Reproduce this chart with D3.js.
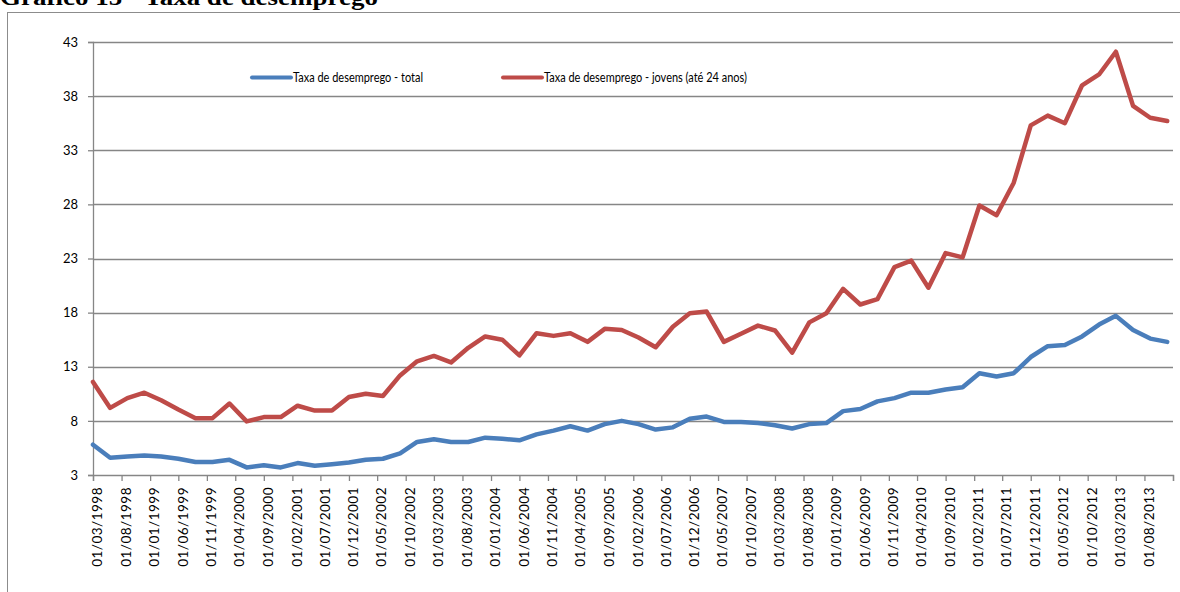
<!DOCTYPE html>
<html>
<head>
<meta charset="utf-8">
<script src="https://cdn.jsdelivr.net/npm/d3@7"></script>
<style>
  body { margin: 0; background: #fff; }
  svg { display: block; }
</style>
</head>
<body>
<svg id="chart"></svg>
<script>
"use strict";

// data (quarterly, Portugal)
const quarters = [
  "01/03/1998", "01/06/1998", "01/09/1998", "01/12/1998",
  "01/03/1999", "01/06/1999", "01/09/1999", "01/12/1999",
  "01/03/2000", "01/06/2000", "01/09/2000", "01/12/2000",
  "01/03/2001", "01/06/2001", "01/09/2001", "01/12/2001",
  "01/03/2002", "01/06/2002", "01/09/2002", "01/12/2002",
  "01/03/2003", "01/06/2003", "01/09/2003", "01/12/2003",
  "01/03/2004", "01/06/2004", "01/09/2004", "01/12/2004",
  "01/03/2005", "01/06/2005", "01/09/2005", "01/12/2005",
  "01/03/2006", "01/06/2006", "01/09/2006", "01/12/2006",
  "01/03/2007", "01/06/2007", "01/09/2007", "01/12/2007",
  "01/03/2008", "01/06/2008", "01/09/2008", "01/12/2008",
  "01/03/2009", "01/06/2009", "01/09/2009", "01/12/2009",
  "01/03/2010", "01/06/2010", "01/09/2010", "01/12/2010",
  "01/03/2011", "01/06/2011", "01/09/2011", "01/12/2011",
  "01/03/2012", "01/06/2012", "01/09/2012", "01/12/2012",
  "01/03/2013", "01/06/2013", "01/09/2013", "01/12/2013"
];

const total = [
  5.8, 4.6, 4.7, 4.8, 4.7, 4.5, 4.2, 4.2,
  4.4, 3.7, 3.9, 3.7, 4.1, 3.85, 4.0, 4.15,
  4.4, 4.5, 5.0, 6.05, 6.3, 6.05, 6.05, 6.45,
  6.35, 6.2, 6.75, 7.1, 7.5, 7.1, 7.7, 8.0,
  7.7, 7.2, 7.4, 8.2, 8.4, 7.9, 7.9, 7.8,
  7.6, 7.3, 7.7, 7.8, 8.9, 9.1, 9.8, 10.1,
  10.6, 10.6, 10.9, 11.1, 12.4, 12.1, 12.4, 13.9,
  14.9, 15.0, 15.8, 16.9, 17.7, 16.4, 15.6, 15.3
];

const jovens = [
  11.6, 9.2, 10.1, 10.6, 9.9, 9.05, 8.25, 8.25,
  9.6, 7.95, 8.35, 8.35, 9.4, 8.95, 8.95, 10.2,
  10.5, 10.3, 12.2, 13.5, 14.0, 13.4, 14.75, 15.8,
  15.5, 14.05, 16.1, 15.85, 16.1, 15.3, 16.5, 16.4,
  15.7, 14.8, 16.7, 17.95, 18.1, 15.3, 16.05, 16.8,
  16.35, 14.3, 17.1, 17.95, 20.2, 18.75, 19.25, 22.2,
  22.8, 20.3, 23.5, 23.1, 27.9, 27.0, 30.0, 35.3,
  36.2, 35.5, 39.0, 40.0, 42.1, 37.1, 36.0, 35.7
];

const tickLabels = [
  "01/03/1998", "01/08/1998", "01/01/1999", "01/06/1999", "01/11/1999",
  "01/04/2000", "01/09/2000", "01/02/2001", "01/07/2001", "01/12/2001",
  "01/05/2002", "01/10/2002", "01/03/2003", "01/08/2003", "01/01/2004",
  "01/06/2004", "01/11/2004", "01/04/2005", "01/09/2005", "01/02/2006",
  "01/07/2006", "01/12/2006", "01/05/2007", "01/10/2007", "01/03/2008",
  "01/08/2008", "01/01/2009", "01/06/2009", "01/11/2009", "01/04/2010",
  "01/09/2010", "01/02/2011", "01/07/2011", "01/12/2011", "01/05/2012",
  "01/10/2012", "01/03/2013", "01/08/2013"
];
const axisEnd = "01/01/2014";

const yTicks = [3, 8, 13, 18, 23, 28, 33, 38, 43];

const seriesNames = [
  "Taxa de desemprego - total",
  "Taxa de desemprego - jovens (até 24 anos)"
];
const seriesColors = ["#4a7ebb", "#be4b48"];

// setup
const width = 1180;
const height = 592;
const plotLeft = 93;
const plotRight = 1173;
const plotTop = 42;
const plotBottom = 475;
const gridColor = "#868686";
const font = "Lato, 'Open Sans', sans-serif";

const parse = d3.timeParse("%d/%m/%Y");

const svg = d3.select("#chart")
  .attr("width", width)
  .attr("height", height);

// title (cut off at top, like the source)
svg.append("text")
  .attr("x", 0)
  .attr("y", 5)
  .attr("font-family", "'Liberation Serif', 'DejaVu Serif', serif")
  .attr("font-weight", "bold")
  .attr("font-size", 24)
  .attr("textLength", 378)
  .attr("lengthAdjust", "spacingAndGlyphs")
  .text("Gráfico 15 - Taxa de desemprego");

// chart frame
svg.append("rect")
  .attr("x", 7.5)
  .attr("y", 12.5)
  .attr("width", 1200)
  .attr("height", 700)
  .attr("fill", "none")
  .attr("stroke", "#8c8c8c")
  .attr("stroke-width", 1);

const x = d3.scaleTime()
  .domain([parse(quarters[0]), parse(axisEnd)])
  .range([plotLeft, plotRight]);

const y = d3.scaleLinear()
  .domain([3, 43])
  .range([plotBottom, plotTop]);

// gridlines
svg.append("g")
  .selectAll("line")
  .data(yTicks.slice(1))
  .join("line")
  .attr("x1", plotLeft)
  .attr("x2", plotRight)
  .attr("y1", (d) => Math.round(y(d)) + 0.5)
  .attr("y2", (d) => Math.round(y(d)) + 0.5)
  .attr("stroke", gridColor)
  .attr("stroke-width", 1.3);

// Y axis
const yAxis = svg.append("g")
  .attr("transform", `translate(${plotLeft},0)`)
  .call(d3.axisLeft(y).tickValues(yTicks).tickSize(5).tickPadding(10).tickFormat(d3.format("d")));
yAxis.select(".domain").attr("stroke", gridColor).attr("stroke-width", 1.3);
yAxis.selectAll(".tick line").attr("stroke", gridColor).attr("stroke-width", 1.3);
yAxis.selectAll("text")
  .attr("font-family", font)
  .attr("font-size", 13)
  .attr("fill", "#000");

// X axis
const xTickDates = tickLabels.map(parse).concat([parse(axisEnd)]);
const xAxis = svg.append("g")
  .attr("transform", `translate(0,${plotBottom})`)
  .call(d3.axisBottom(x).tickValues(xTickDates).tickSize(6).tickFormat(() => ""));
xAxis.select(".domain").attr("stroke", gridColor).attr("stroke-width", 1.3);
xAxis.selectAll(".tick line").attr("stroke", gridColor).attr("stroke-width", 1.3);

svg.append("g")
  .selectAll("text")
  .data(tickLabels)
  .join("text")
  .attr("transform", (d) => `translate(${x(parse(d)) + 4.5},487) rotate(-90)`)
  .attr("text-anchor", "end")
  .attr("dy", "0.35em")
  .attr("font-family", font)
  .attr("font-size", 13.5)
  .attr("letter-spacing", 0.5)
  .attr("fill", "#000")
  .text((d) => d);

// lines
const line = d3.line()
  .x((d, i) => x(parse(quarters[i])))
  .y((d) => y(d));

[total, jovens].forEach((s, k) => {
  svg.append("path")
    .datum(s)
    .attr("d", line)
    .attr("fill", "none")
    .attr("stroke", seriesColors[k])
    .attr("stroke-width", 4.5)
    .attr("stroke-linejoin", "round")
    .attr("stroke-linecap", "round");
});

// legend
const legendItems = [
  { x: 252, textW: 130 },
  { x: 503, textW: 203 }
];
legendItems.forEach((p, k) => {
  const g = svg.append("g").attr("transform", `translate(${p.x},77.5)`);
  g.append("line")
    .attr("x1", 0)
    .attr("x2", 39)
    .attr("stroke", seriesColors[k])
    .attr("stroke-width", 4)
    .attr("stroke-linecap", "round");
  g.append("text")
    .attr("x", 41)
    .attr("dy", "0.35em")
    .attr("font-family", font)
    .attr("font-size", 13.5)
    .attr("textLength", p.textW)
    .attr("lengthAdjust", "spacingAndGlyphs")
    .attr("fill", "#000")
    .text(seriesNames[k]);
});
</script>
</body>
</html>
